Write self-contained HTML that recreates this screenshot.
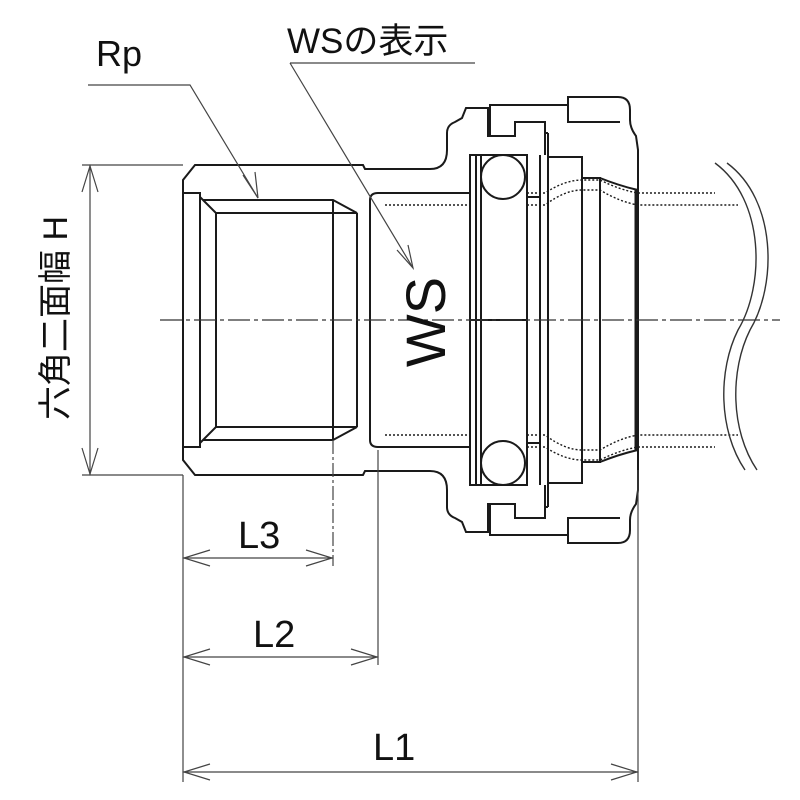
<!DOCTYPE html>
<html><head><meta charset="utf-8"><style>html,body{margin:0;padding:0;background:#fff}svg{display:block}</style></head>
<body>
<svg width="800" height="800" viewBox="0 0 800 800" xmlns="http://www.w3.org/2000/svg" font-family="'Liberation Sans','Noto Sans CJK JP',sans-serif">
<defs>
<g id="half" fill="none" stroke="#1a1a1a" stroke-width="2">
  <path d="M183,320 L183,180 L195,165 L363,165 L365,169 L430,169 Q447,169 447,150 L447,133 Q447,125 455,122 L462,118 L466,108 L488,108 L488,136 L515,136 L515,122 L545,122 L545,155"/>
  <path d="M183,193 L200,193 L200,320"/>
  <path d="M200,197 L216,213 L216,320"/>
  <path d="M203,200 L333,200 L357,213 L216,213"/>
  <path d="M333,200 L333,320"/>
  <path d="M357,213 L357,320"/>
  <path d="M370,320 L370,200 Q370,193 378,193 L470,193"/>
  <path d="M490,136 L490,105 L568,105 L568,97 L618,97 Q630,97 630,110 L630,120 Q630,128 636,136 L638,150 L638,320" />
  <path d="M568,105 L568,122 L620,122"/>
  <path d="M545,122 L545,133 L548,133"/>
  <rect x="470" y="155" width="57" height="165"/>
  <line x1="476" y1="155" x2="476" y2="320"/>
  <line x1="481" y1="155" x2="481" y2="320"/>
  <circle cx="503" cy="177" r="22"/>
  <line x1="540" y1="155" x2="540" y2="320"/>
  <line x1="548" y1="133" x2="548" y2="320"/>
  <path d="M548,157 L582,157 L582,320"/>
  <path d="M582,178 L600,178 L600,320"/>
  <path d="M600,178 Q620,186 638,190"/>
  <line x1="527" y1="197" x2="540" y2="197"/>
  <line x1="636" y1="190" x2="636" y2="320" stroke-width="3"/>
  <g stroke-dasharray="2,2" stroke-width="1.4">
    <path d="M385,193 L470,193 M385,205 L470,205"/>
    <path d="M527,193 L545,193 Q565,180 582,180 L600,180 Q620,190 638,193 L715,193"/>
    <path d="M527,205 L545,205 Q565,190 582,190 L600,190 Q620,202 638,205 L738,205"/>
  </g>
</g>
</defs>
<use href="#half"/>
<use href="#half" transform="translate(0,640) scale(1,-1)"/>
<line x1="160" y1="320" x2="780" y2="320" stroke="#333" stroke-width="1.2" stroke-dasharray="22,4,4,4"/>
<g fill="none" stroke="#333" stroke-width="1.4">
  <path d="M715,163 C765,200 765,285 738,330 C718,370 718,430 745,470"/>
  <path d="M727,163 C777,200 777,285 750,330 C730,370 730,430 757,470"/>
</g>
<g stroke="#444" stroke-width="1.2" fill="none">
  <line x1="82" y1="165" x2="183" y2="165"/>
  <line x1="82" y1="475" x2="183" y2="475"/>
  <line x1="90" y1="165" x2="90" y2="475"/>
  <path d="M82,192 L90,166 L98,192 M82,448 L90,474 L98,448"/>
  <line x1="183" y1="475" x2="183" y2="782"/>
  <line x1="333" y1="440" x2="333" y2="566" stroke-dasharray="14,3,3,3"/>
  <line x1="378" y1="450" x2="378" y2="665"/>
  <line x1="638" y1="470" x2="638" y2="782"/>
  <line x1="183" y1="558" x2="333" y2="558"/>
  <path d="M210,550 L184,558 L210,566 M306,550 L332,558 L306,566"/>
  <line x1="183" y1="657" x2="378" y2="657"/>
  <path d="M210,649 L184,657 L210,665 M351,649 L377,657 L351,665"/>
  <line x1="183" y1="772" x2="638" y2="772"/>
  <path d="M210,764 L184,772 L210,780 M611,764 L637,772 L611,780"/>
  <path d="M88,85 L190,85 L258,198"/>
  <path d="M243,175 L258,198 L255,172"/>
  <path d="M290,63 L475,63"/>
  <path d="M290,63 L413,268"/>
  <path d="M397,250 L413,268 L408,245"/>
</g>
<g fill="#111">
  <text x="96" y="66" font-size="36">Rp</text>
  <text x="287" y="53" font-size="35">WSの表示</text>
  <text x="238" y="548" font-size="38">L3</text>
  <text x="253" y="647" font-size="38">L2</text>
  <text x="373" y="760" font-size="38">L1</text>
  <text transform="translate(445,322) rotate(-90)" text-anchor="middle" font-size="56">WS</text>
  <text transform="translate(67,318) rotate(-90)" text-anchor="middle" font-size="34">六角二面幅 H</text>
</g>
</svg>
</body></html>
